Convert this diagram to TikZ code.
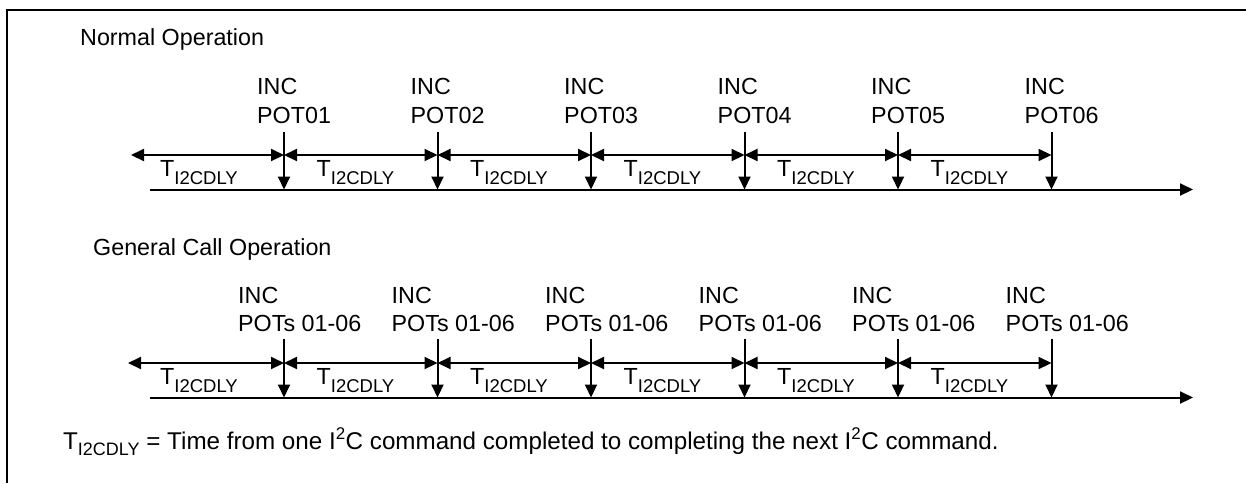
\documentclass[tikz,border=0pt]{standalone}
\usepackage{fontspec}
\setmainfont{Liberation Sans}
\usetikzlibrary{arrows.meta}
\newcommand\tdsub[1]{\raisebox{-8pt}{\fontsize{18.5}{18.5}\selectfont #1}}
\newcommand\tfsub[1]{\raisebox{-6pt}{\fontsize{18}{18}\selectfont #1}}
\begin{document}
\begin{tikzpicture}[x=1pt,y=-1pt,
  txt/.style={inner sep=0pt,font=\fontsize{23.3}{27}\selectfont},
  ftxt/.style={inner sep=0pt,font=\fontsize{24.2}{28}\selectfont},
  frame/.style={line width=2.5pt},
  ln/.style={line width=2pt},
  tip/.style={-{Triangle[length=13pt,width=12pt]}},
  dim/.style={{Triangle[length=13pt,width=12pt]}-{Triangle[length=13pt,width=12pt]}}
]
\useasboundingbox (0,0) rectangle (1246,483);
\draw[frame] (7,483) -- (7,10) -- (1250,10);

% ---------- Normal operation ----------
\node[txt,anchor=base west] (titleA) at (80,45) {Normal Operation};
\coordinate (a0) at (131,155);
\coordinate (ls) at (150,189.5);
\coordinate (le) at (1193,189.5);
\draw[ln,tip] (ls) -- (le);
\foreach \i/\x in {1/284,2/437.5,3/591,4/744.5,5/898,6/1051.5}{
  \coordinate (at\i) at (\x,132);
  \coordinate (ab\i) at (\x,189.5);
  \coordinate (am\i) at (\x,155);
  \draw[ln,tip] (at\i) -- (ab\i);
  \node[txt,anchor=base west] (ainc\i) at (\x-27,94) {INC};
  \node[txt,anchor=base west] (apot\i) at (\x-27,123) {POT0\i};
}
\draw[ln,dim] (a0) -- (am1);
\foreach \i/\j in {1/2,2/3,3/4,4/5,5/6}{\draw[ln,dim] (am\i) -- (am\j);}
\foreach \i/\x in {1/199,2/355.5,3/509,4/662.5,5/816,6/969.5}{
  \node[txt,anchor=base] (alab\i) at (\x,176) {T\tdsub{I2CDLY}};
}

% ---------- General call operation ----------
\node[txt,anchor=base west] (titleB) at (93,255) {General Call Operation};
\coordinate (b0) at (128,363);
\coordinate (gs) at (150,397.5);
\coordinate (ge) at (1193,397.5);
\draw[ln,tip] (gs) -- (ge);
\foreach \i/\x in {1/284,2/437.5,3/591,4/744.5,5/898,6/1051.5}{
  \coordinate (bt\i) at (\x,339);
  \coordinate (bb\i) at (\x,397.5);
  \coordinate (bm\i) at (\x,363);
  \draw[ln,tip] (bt\i) -- (bb\i);
  \node[txt,anchor=base west] (binc\i) at (\x-46,303) {INC};
  \node[txt,anchor=base west] (bpot\i) at (\x-46,331.5) {POTs 01-06};
}
\draw[ln,dim] (b0) -- (bm1);
\foreach \i/\j in {1/2,2/3,3/4,4/5,5/6}{\draw[ln,dim] (bm\i) -- (bm\j);}
\foreach \i/\x in {1/199,2/355.5,3/509,4/662.5,5/816,6/969.5}{
  \node[txt,anchor=base] (blab\i) at (\x,384) {T\tdsub{I2CDLY}};
}

% ---------- footnote ----------
\node[ftxt,anchor=base west] (note) at (63,449) {T\tfsub{I2CDLY} = Time from one I\textsuperscript{2}C command completed to completing the next I\textsuperscript{2}C command.};
\end{tikzpicture}
\end{document}
